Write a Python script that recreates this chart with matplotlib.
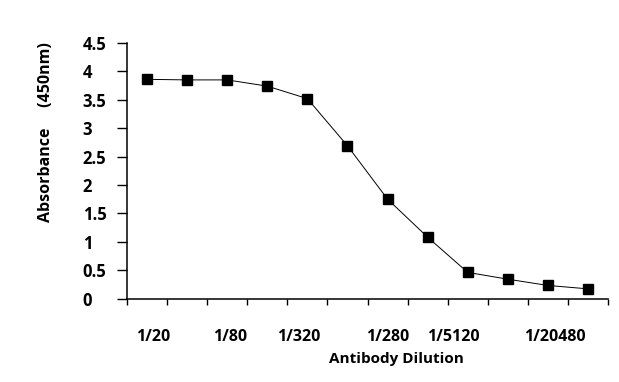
import numpy as np
import matplotlib
matplotlib.use('Agg')
import matplotlib.pyplot as plt

# dilution labels (every other point labelled, as in the original)
dilutions = ['1/20', '1/40', '1/80', '1/160', '1/320', '1/640',
             '1/280', '1/2560', '1/5120', '1/10240', '1/20480', '1/40960']
absorbance = [3.86, 3.85, 3.85, 3.74, 3.52, 2.69,
              1.75, 1.08, 0.46, 0.34, 0.23, 0.17]
shown_labels = ['1/20', '1/80', '1/320', '1/280', '1/5120', '1/20480']
label_pos = [0.15, 2.08, 3.78, 6.0, 7.63, 10.18]

plt.rcParams['font.family'] = ['Open Sans', 'DejaVu Sans']
plt.rcParams['font.weight'] = 'bold'

fig = plt.figure(figsize=(6.19, 3.82), dpi=100)
ax = fig.add_axes([127/619, 1-298.5/382, (608-127)/619, (298.5-43)/382])

x = np.arange(len(absorbance))
ax.plot(x, absorbance, color='black', lw=0.7, marker='s', markersize=7.5,
        markerfacecolor='black', markeredgecolor='black')

ax.set_xlim(-0.5, len(absorbance)-0.5)
ax.set_ylim(0, 4.5)
ax.set_yticks(np.arange(0, 4.51, 0.5))
ax.set_yticklabels(['0', '0.5', '1', '1.5', '2', '2.5', '3', '3.5', '4', '4.5'],
                   ha='left', fontsize=12, fontweight='bold')
ax.tick_params(axis='y', direction='out', length=7, width=1, pad=25)

ax.set_xticks(label_pos)
ax.set_xticklabels(shown_labels, fontsize=11.5, fontweight='bold')
ax.tick_params(axis='x', which='major', length=0, pad=22)
ax.set_xticks(np.arange(-0.5, len(absorbance)), minor=True)
ax.tick_params(axis='x', which='minor', direction='out', length=4, width=1)

for s in ['top', 'right']:
    ax.spines[s].set_visible(False)
for s in ['left', 'bottom']:
    ax.spines[s].set_linewidth(1.1)

fig.text(396/619, 1-359/382, 'Antibody Dilution', ha='center', va='center',
         fontsize=11, fontweight='bold')
fig.text(46/619, 1-132/382, 'Absorbance     (450nm)', ha='center', va='center',
         rotation=90, fontsize=11.5, fontweight='bold')

plt.savefig('out.png', dpi=100)
